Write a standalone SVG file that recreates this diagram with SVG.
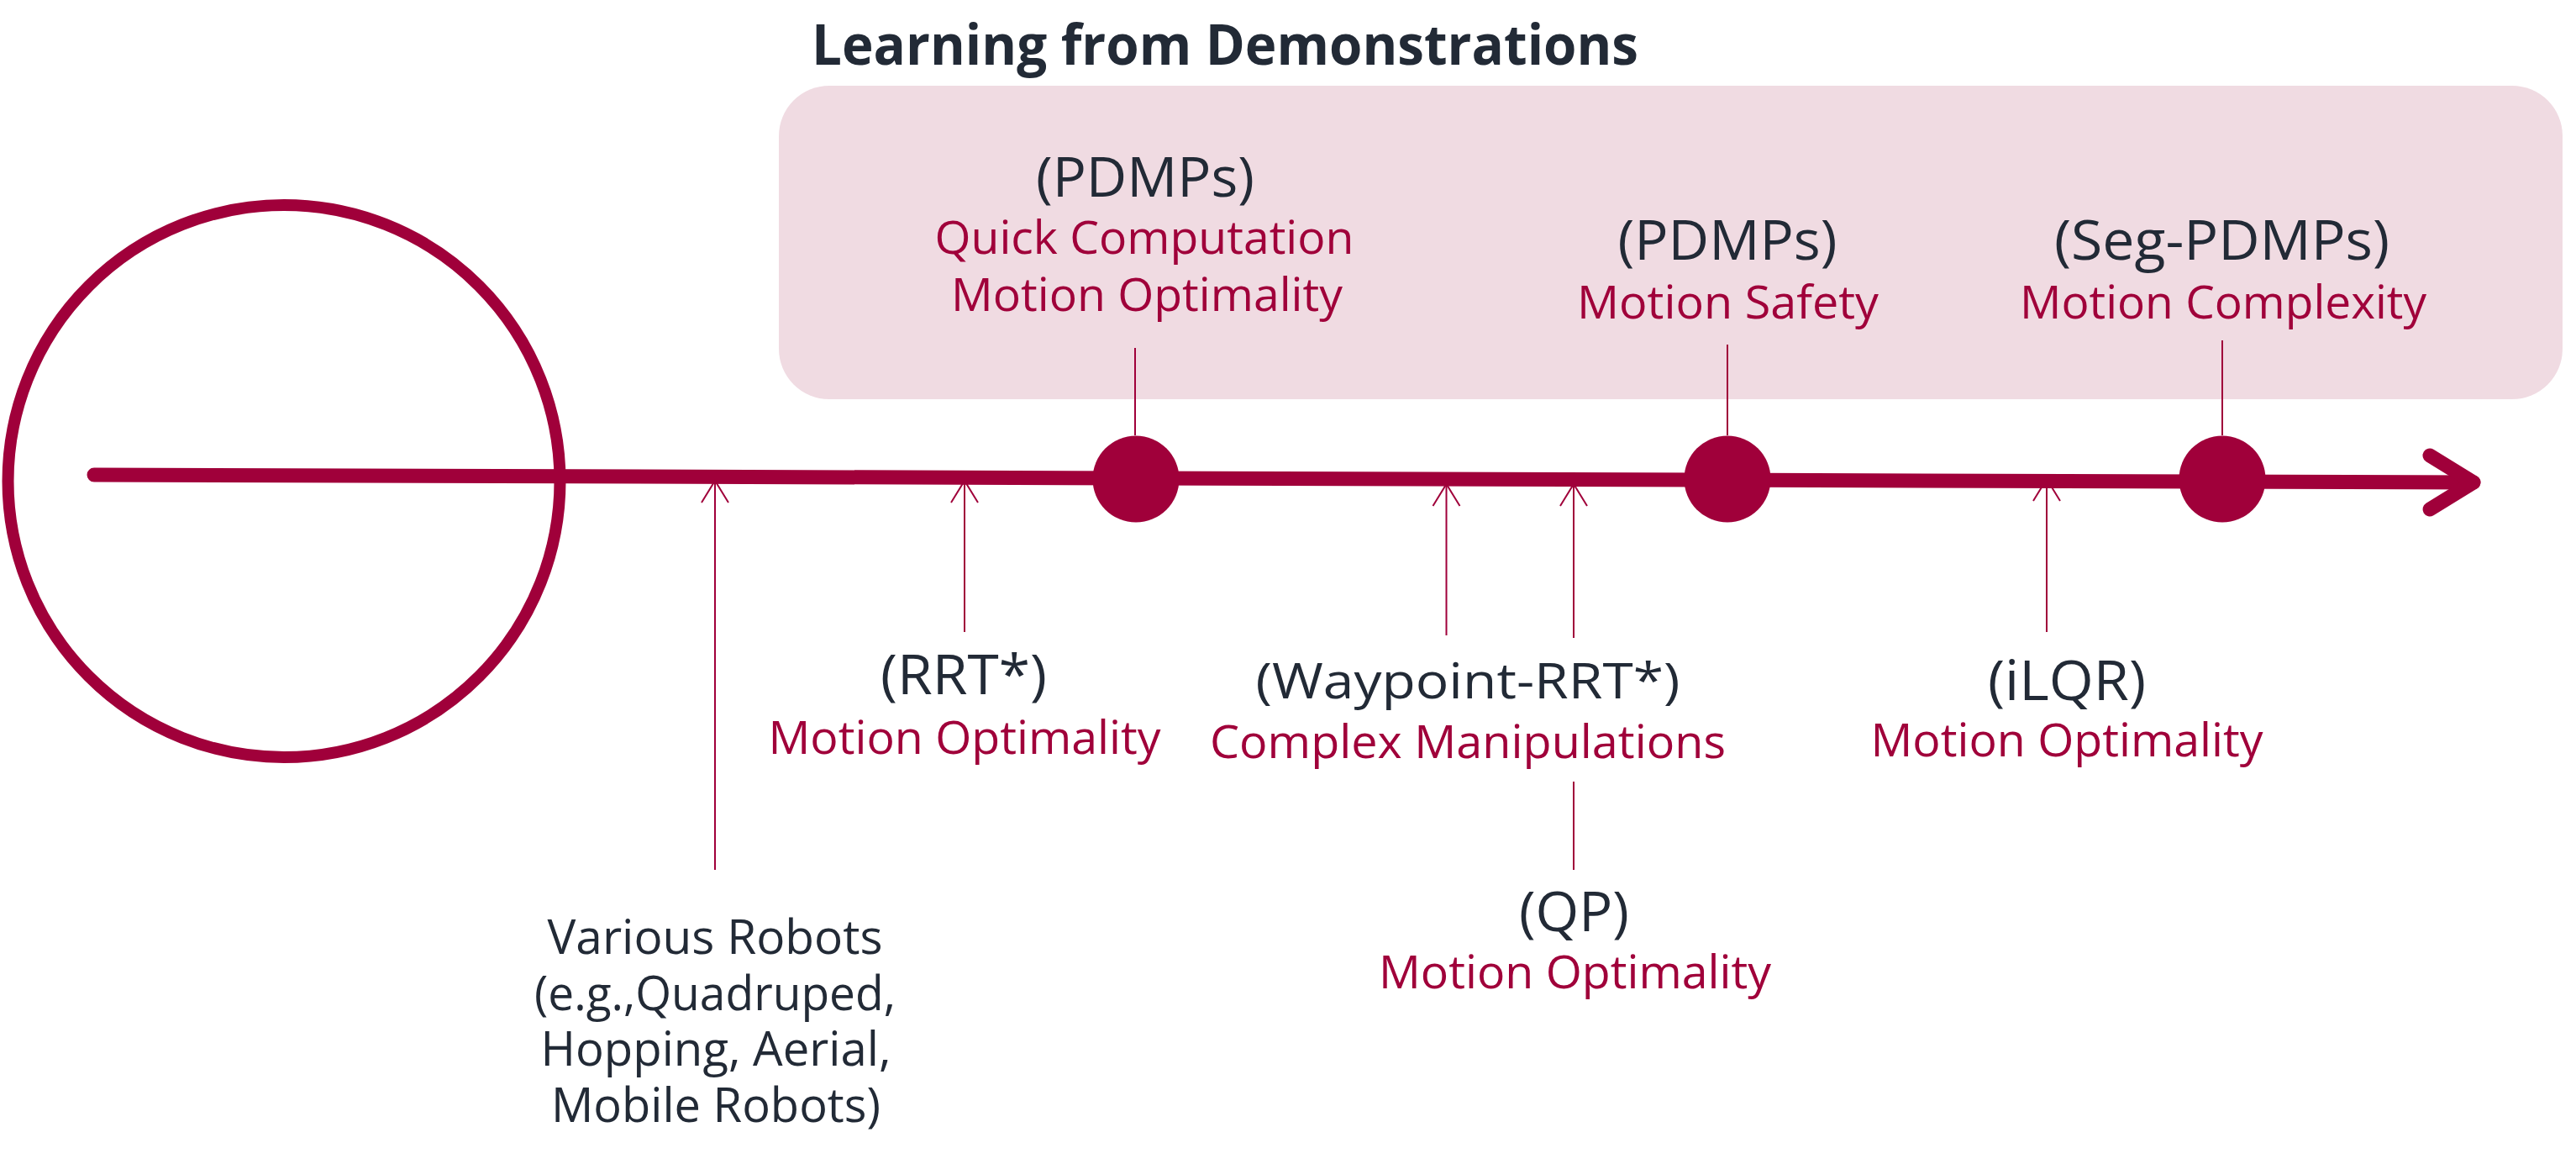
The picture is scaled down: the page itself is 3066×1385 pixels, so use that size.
<svg xmlns="http://www.w3.org/2000/svg" width="3066" height="1385" viewBox="0 0 3066 1385">
  <defs>
    <style>
      .lbl { font-family: "Open Sans", "Liberation Sans", sans-serif; font-size: 66px; fill: #222a36; text-anchor: middle; }
      .lbl2 { font-family: "Open Sans", "Liberation Sans", sans-serif; font-size: 58px; fill: #222a36; text-anchor: middle; }
      .body { font-family: "Open Sans", "Liberation Sans", sans-serif; font-size: 56px; fill: #222a36; text-anchor: middle; }
      .red { font-family: "Open Sans", "Liberation Sans", sans-serif; font-size: 55px; fill: #a0003a; text-anchor: middle; }
      .title { font-family: "Open Sans", "Liberation Sans", sans-serif; font-size: 66px; font-weight: bold; fill: #222a36; }
      .thin { stroke: #a0003a; stroke-width: 2; fill: none; }
      .dot { fill: #a0003a; }
    </style>
    <marker id="openHead" markerUnits="userSpaceOnUse" markerWidth="40" markerHeight="40" refX="0" refY="0" orient="auto" overflow="visible" viewBox="-30 -20 40 40">
      <path d="M -26 -16 L 0 0 L -26 16" fill="none" stroke="#a0003a" stroke-width="2"/>
    </marker>
  </defs>

  <rect width="3066" height="1385" fill="#ffffff"/>

  <g id="title">
    <text class="title" x="966" y="77" textLength="984" lengthAdjust="spacingAndGlyphs">Learning from Demonstrations</text>
  </g>

  <g id="lfd-frame">
    <rect x="927" y="102" width="2123" height="373" rx="60" ry="60" fill="#f0dbe2"/>
  </g>

  <g id="start-circle">
    <circle cx="338" cy="572.5" r="328.5" fill="none" stroke="#a0003a" stroke-width="14"/>
  </g>

  <g id="connectors">
    <line x1="112" y1="565" x2="2944" y2="574" stroke="#a0003a" stroke-width="17" stroke-linecap="round"/>
    <polyline points="2892,542 2944,574 2892,606" fill="none" stroke="#a0003a" stroke-width="17" stroke-linecap="round" stroke-linejoin="round"/>
    <line class="thin" x1="1351" y1="414" x2="1351" y2="518"/>
    <line class="thin" x1="2056" y1="410" x2="2056" y2="518"/>
    <line class="thin" x1="2645" y1="405" x2="2645" y2="518"/>
    <line class="thin" x1="851" y1="1035" x2="851" y2="572" marker-end="url(#openHead)"/>
    <line class="thin" x1="1148" y1="752" x2="1148" y2="572" marker-end="url(#openHead)"/>
    <line class="thin" x1="1721.5" y1="756" x2="1721.5" y2="576" marker-end="url(#openHead)"/>
    <line class="thin" x1="1873" y1="759" x2="1873" y2="576" marker-end="url(#openHead)"/>
    <line class="thin" x1="2436" y1="752" x2="2436" y2="570" marker-end="url(#openHead)"/>
    <line class="thin" x1="1873" y1="930" x2="1873" y2="1035"/>
  </g>

  <g id="pdmps-quick">
    <circle class="dot" cx="1352" cy="570" r="51.5"/>
    <text class="lbl" x="1363" y="234" textLength="260" lengthAdjust="spacingAndGlyphs">(PDMPs)</text>
    <text class="red" x="1362" y="302" textLength="499" lengthAdjust="spacingAndGlyphs">Quick Computation</text>
    <text class="red" x="1365" y="370" textLength="466" lengthAdjust="spacingAndGlyphs">Motion Optimality</text>
  </g>

  <g id="pdmps-safety">
    <circle class="dot" cx="2056" cy="570" r="51.5"/>
    <text class="lbl" x="2056" y="309" textLength="261" lengthAdjust="spacingAndGlyphs">(PDMPs)</text>
    <text class="red" x="2056.5" y="379" textLength="359" lengthAdjust="spacingAndGlyphs">Motion Safety</text>
  </g>

  <g id="seg-pdmps">
    <circle class="dot" cx="2645" cy="570" r="51.5"/>
    <text class="lbl" x="2644.5" y="309" textLength="399" lengthAdjust="spacingAndGlyphs">(Seg-PDMPs)</text>
    <text class="red" x="2646" y="379" textLength="484" lengthAdjust="spacingAndGlyphs">Motion Complexity</text>
  </g>

  <g id="various-robots">
    <text class="body" x="851" y="1135" textLength="399" lengthAdjust="spacingAndGlyphs">Various Robots</text>
    <text class="body" x="851" y="1201.5" textLength="430" lengthAdjust="spacingAndGlyphs">(e.g.,Quadruped,</text>
    <text class="body" x="852" y="1268" textLength="417" lengthAdjust="spacingAndGlyphs">Hopping, Aerial,</text>
    <text class="body" x="852" y="1334.5" textLength="392" lengthAdjust="spacingAndGlyphs">Mobile Robots)</text>
  </g>

  <g id="rrt">
    <text class="lbl" x="1147" y="826" textLength="198" lengthAdjust="spacingAndGlyphs">(RRT*)</text>
    <text class="red" x="1148" y="896.5" textLength="467" lengthAdjust="spacingAndGlyphs">Motion Optimality</text>
  </g>

  <g id="waypoint-rrt">
    <text class="lbl2" x="1747" y="831" textLength="505" lengthAdjust="spacingAndGlyphs">(Waypoint-RRT*)</text>
    <text class="red" x="1747" y="901.5" textLength="614" lengthAdjust="spacingAndGlyphs">Complex Manipulations</text>
  </g>

  <g id="qp">
    <text class="lbl" x="1873.5" y="1107.5" textLength="131" lengthAdjust="spacingAndGlyphs">(QP)</text>
    <text class="red" x="1874.5" y="1176" textLength="467" lengthAdjust="spacingAndGlyphs">Motion Optimality</text>
  </g>

  <g id="ilqr">
    <text class="lbl" x="2460" y="833" textLength="188" lengthAdjust="spacingAndGlyphs">(iLQR)</text>
    <text class="red" x="2460" y="900" textLength="467" lengthAdjust="spacingAndGlyphs">Motion Optimality</text>
  </g>
</svg>
